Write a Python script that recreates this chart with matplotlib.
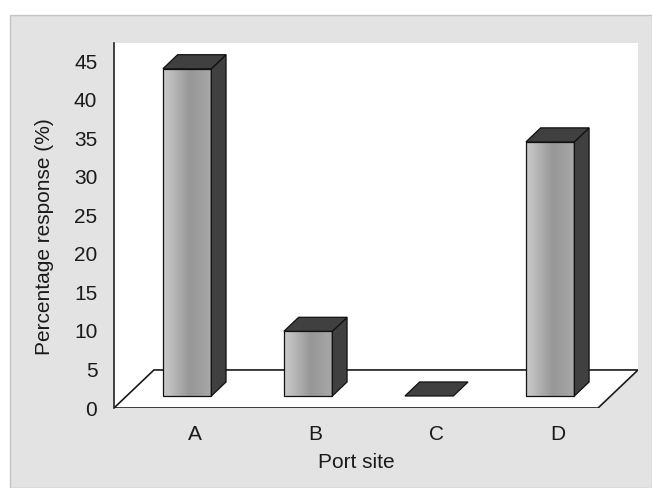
import numpy as np
import matplotlib
matplotlib.use("Agg")
import matplotlib.pyplot as plt
from matplotlib.patches import Polygon, Rectangle
from matplotlib.colors import LinearSegmentedColormap

plt.rcParams["font.family"] = ["Liberation Sans", "DejaVu Sans"]

# Data
sites = ["A", "B", "C", "D"]
response_pct = [42.5, 8.4, 0.0, 33.0]
y_ticks = [0, 5, 10, 15, 20, 25, 30, 35, 40, 45]

# Oblique "3-D" geometry (data units)
DX, DY = 0.33, 4.94          # floor depth vector
F0, F1 = 0.316, 0.684        # bar depth span as fraction of floor depth
BAR_W = 0.40
Y_MAX = 47.4
X_MIN, X_MAX = -0.5, len(sites) - 0.5 + DX
FS = 15
TXT = "#1a1a1a"

FIG_W, FIG_H = 652, 488
fig = plt.figure(figsize=(FIG_W / 100, FIG_H / 100), dpi=100)
fig.patch.set_facecolor("white")

# grey chart panel
fig.add_artist(Rectangle((10 / FIG_W, 0), (FIG_W - 10) / FIG_W, (FIG_H - 15) / FIG_H,
                         transform=fig.transFigure, facecolor="#e3e3e3",
                         edgecolor="#c4c4c4", linewidth=1.0, zorder=0))

left, right, bottom, top = 114, 638, 408, 43
ax = fig.add_axes([left / FIG_W, (FIG_H - bottom) / FIG_H,
                   (right - left) / FIG_W, (bottom - top) / FIG_H])
ax.set_facecolor("none")
ax.set_xlim(X_MIN, X_MAX)
ax.set_ylim(0, Y_MAX)

n = len(sites)
# white plot area (without the corner right of the floor)
ax.add_patch(Polygon([(X_MIN, 0), (X_MIN, Y_MAX), (X_MAX, Y_MAX), (X_MAX, DY),
                      (n - 0.5, 0)], closed=True, facecolor="white",
                     edgecolor="none", zorder=0.5))
# floor
ax.add_patch(Polygon([(-0.5, 0), (n - 0.5, 0), (n - 0.5 + DX, DY), (-0.5 + DX, DY)],
                     closed=True, facecolor="white", edgecolor="#1a1a1a",
                     linewidth=1.2, zorder=1))

grad_cmap = LinearSegmentedColormap.from_list(
    "bar_front",
    [(0.0, "#cacaca"), (0.15, "#bebebe"), (0.55, "#979797"),
     (0.8, "#a0a0a0"), (1.0, "#a9a9a9")])
grad = np.linspace(0, 1, 256)[np.newaxis, :]

dark = "#404040"
edge = "#111111"
bdx, bdy = (F1 - F0) * DX, (F1 - F0) * DY
yb = F0 * DY
for i, v in enumerate(response_pct):
    x0 = i + F0 * DX - BAR_W / 2
    x1 = x0 + BAR_W
    if v > 0:
        front = Rectangle((x0, yb), BAR_W, v, facecolor="none",
                          edgecolor=edge, linewidth=0.9, zorder=3)
        ax.add_patch(front)
        im = ax.imshow(grad, extent=(x0, x1, yb, yb + v), cmap=grad_cmap,
                       aspect="auto", interpolation="bicubic", zorder=2)
        im.set_clip_path(front)
        ax.add_patch(Polygon([(x1, yb), (x1, yb + v), (x1 + bdx, yb + v + bdy),
                              (x1 + bdx, yb + bdy)], closed=True,
                             facecolor=dark, edgecolor=edge, linewidth=0.9, zorder=3))
    ax.add_patch(Polygon([(x0, yb + v), (x1, yb + v), (x1 + bdx, yb + v + bdy),
                          (x0 + bdx, yb + v + bdy)], closed=True,
                         facecolor=dark, edgecolor=edge, linewidth=0.9, zorder=3))

ax.set_xlim(X_MIN, X_MAX)
ax.set_ylim(0, Y_MAX)

for s in ["top", "right", "bottom"]:
    ax.spines[s].set_visible(False)
ax.spines["left"].set_color("#222222")
ax.spines["left"].set_linewidth(1.2)

ax.set_yticks(y_ticks)
ax.tick_params(axis="y", length=0, pad=12, labelsize=FS, labelcolor=TXT)
ax.set_xticks([i + 0.5 * DX for i in range(n)])
ax.set_xticklabels(sites)
ax.tick_params(axis="x", length=0, pad=12, labelsize=FS, labelcolor=TXT)

ax.set_xlabel("Port site", fontsize=FS, color=TXT)
ax.xaxis.set_label_coords((1.5 - X_MIN) / (X_MAX - X_MIN), (bottom - 463) / (bottom - top))
ax.xaxis.label.set_va("center")
ax.set_ylabel("Percentage response (%)", fontsize=FS, color=TXT)
ax.yaxis.set_label_coords((45 - left) / (right - left), (bottom - 237) / (bottom - top))
ax.yaxis.label.set_va("center")

fig.savefig("out.png", dpi=100)
